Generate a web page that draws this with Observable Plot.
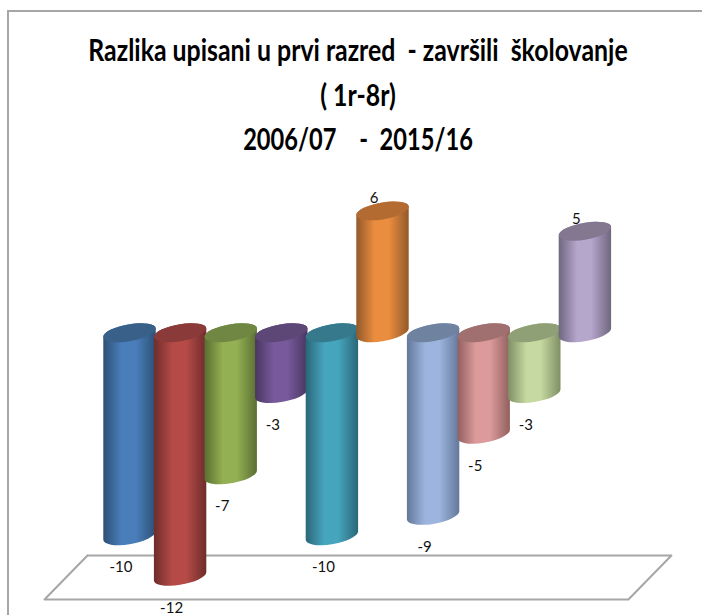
<!DOCTYPE html>
<html>
<head>
<meta charset="utf-8">
<script src="https://cdn.jsdelivr.net/npm/d3@7"></script>
<script src="https://cdn.jsdelivr.net/npm/@observablehq/plot@0.6"></script>
<style>
html,body{margin:0;padding:0;background:#fff;overflow:hidden}
#wrap{position:relative;width:702px;height:615px;overflow:hidden}
#frame{position:absolute;left:7px;top:10px;right:-5px;bottom:-5px;border:2px solid #a6a6a6}
#title{position:absolute;left:0;top:27px;width:716px;text-align:center;font-family:Lato,sans-serif;font-weight:700;font-size:31px;line-height:44.5px;color:#000;white-space:pre}
#title div{transform:scaleX(.802)}
#title div:last-child{transform:scaleX(.762)}
#chart{position:absolute;left:0;top:0}
#chart svg{display:block}
</style>
</head>
<body>
<div id="wrap"><div id="frame"></div><div id="chart"></div>
<div id="title"><div>Razlika upisani u prvi razred  - završili  školovanje</div><div>( 1r-8r)</div><div>2006/07    -  2015/16</div></div></div>
<script>
const years = ["2006/07","2007/08","2008/09","2009/10","2010/11","2011/12","2012/13","2013/14","2014/15","2015/16"];
const values = [-10,-12,-7,-3,-10,6,-9,-5,-3,5];
const midColors = ["#4a7ebb","#b54a47","#93b052","#77599c","#45a5bd","#ea8d3f","#9db5de","#dd9a9a","#c6d9a0","#b5a6cc"];
const edgeColors = ["#2c5076","#6e2d2b","#5a6e32","#4a3660","#2a6678","#93592a","#63789a","#90605f","#7f8f65","#6f667f"];
const capColors = ["#386089","#8a3a38","#6f8743","#5d4777","#36798d","#b36b32","#6f83a0","#a07070","#8fa077","#83788f"];
const floorX = [-0.84,10.7,9.85,-1.69,-0.84];
const floorY = [-10.95,-10.95,-13.12,-13.12,-10.95];

const rows = years.map((year,i)=>({year,i,value:values[i]}));
const skew = {render(index,scales,vals,dims,ctx,next){
  const g = next(index,scales,vals,dims,ctx);
  d3.select(g).selectAll("rect").style("transform-box","fill-box").style("transform-origin","center").style("transform","skewY(-9deg)");
  return g;
}};
const ry = 8.5, rx = 26.2, over = -0.9;
const cyl = rows.flatMap((d)=>[
  Plot.rect([d],{x1:r=>r.i-0.5,x2:r=>r.i+0.5,y1:0,y2:r=>r.value,fill:`url(#g${d.i})`,rx,ry,
    insetTop:-ry,insetBottom:-ry,insetLeft:over,insetRight:over,...skew}),
  Plot.rect([d],{x1:r=>r.i-0.5,x2:r=>r.i+0.5,y1:r=>Math.max(r.value,0),y2:r=>Math.max(r.value,0),fill:capColors[d.i],rx,ry,
    insetTop:-ry,insetBottom:-ry,insetLeft:over,insetRight:over,...skew})
]);
const labelStyle = {x:"i",fontFamily:"Lato, sans-serif",fontSize:15,fill:"#111",dx:-9};
const svg = Plot.plot({
  width:702,height:615,margin:0,
  style:{background:"transparent"},
  x:{domain:[-0.5,9.5],range:[104.2,610.2],axis:null},
  y:{domain:[0,-1],range:[332.7,353],axis:null},
  marks:[
    Plot.line(floorX.map((x,k)=>({x,y:floorY[k]})),{x:"x",y:"y",stroke:"#a6a6a6",strokeWidth:2}),
    ...cyl,
    Plot.text(rows.filter(d=>d.value<0),{...labelStyle,y:"value",text:d=>String(d.value),dy:31}),
    Plot.text(rows.filter(d=>d.value>=0),{...labelStyle,y:"value",text:d=>String(d.value),dy:-13})
  ]
});
const defs = d3.select(svg).append("defs");
rows.forEach(d=>{
  const g = defs.append("linearGradient").attr("id","g"+d.i).attr("x1",0).attr("x2",1).attr("y1",0).attr("y2",0);
  [[0,edgeColors[d.i]],[.35,midColors[d.i]],[.62,midColors[d.i]],[1,edgeColors[d.i]]].forEach(([o,c])=>g.append("stop").attr("offset",o).attr("stop-color",c));
});
document.getElementById("chart").append(svg);
</script>
</body>
</html>
